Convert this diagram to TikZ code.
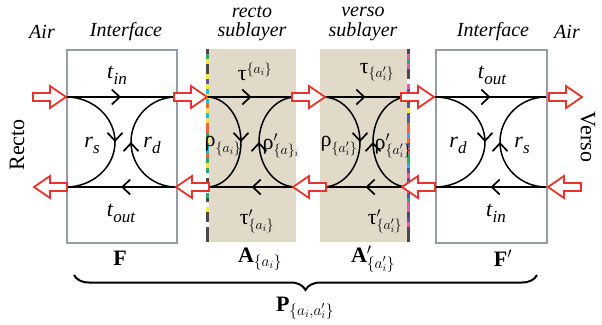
\RequirePackage{fix-cm}
\documentclass[tikz,border=0pt]{standalone}
\usepackage{fontspec}
\setmainfont{Liberation Serif}
\usetikzlibrary{decorations.markings,decorations.pathreplacing,arrows.meta}
\definecolor{boxgray}{RGB}{152,156,162}
\definecolor{beige}{RGB}{226,218,201}
\definecolor{arrred}{RGB}{232,52,42}
\definecolor{inkY}{RGB}{250,228,70}
\definecolor{inkC}{RGB}{40,180,230}
\definecolor{inkP}{RGB}{88,86,160}
\definecolor{inkG}{RGB}{40,170,110}
\definecolor{inkO}{RGB}{240,100,60}
\definecolor{inkK}{RGB}{230,90,160}
\definecolor{inkD}{RGB}{80,72,72}
\definecolor{inkW}{RGB}{255,255,255}
\newcommand{\utau}{\mbox{\fontsize{22}{22}\selectfont τ}}
\newcommand{\urho}{\mbox{\fontsize{22}{22}\selectfont ρ}}
\newcommand{\isub}[2]{\textit{#1}\raisebox{-6pt}{\fontsize{17}{17}\selectfont\itshape #2}}
\tikzset{
  flow/.style={line width=1.5pt, postaction=decorate,
    decoration={markings, mark=at position 0.5 with {\arrow{Straight Barb[length=8pt,width=15pt,line width=1.7pt]}}}},
  plainbox/.style={draw=boxgray, line width=2.2pt},
  inkbox/.style={fill=beige},
  lbl/.style={font=\fontsize{22}{24}\selectfont, inner sep=0pt},
  glbl/.style={font=\fontsize{20}{22}\selectfont, inner sep=0pt},
  ilbl/.style={font=\fontsize{20}{20}\selectfont\itshape, inner sep=0pt, align=center},
  pics/blockarrow/.style={code={
    \draw[arrred, fill=white, line width=1.8pt, line join=miter]
      (0,0) -- (-16,-11) -- (-16,-4) -- (-33,-4) -- (-33,4) -- (-16,4) -- (-16,11) -- cycle;}}
}
% #1 name, #2 left x, #3 right x, #4 left bulge x, #5 right bulge x
\newcommand{\flowbox}[5]{%
  \coordinate (#1tl) at (#2,97);
  \coordinate (#1tr) at (#3,97);
  \coordinate (#1bl) at (#2,187);
  \coordinate (#1br) at (#3,187);
  \coordinate (#1ml) at (#4,142);
  \coordinate (#1mr) at (#5,142);
  \draw[flow] (#1tl) -- (#1tr);
  \draw[flow] (#1br) -- (#1bl);
  \draw[flow] (#1tl) .. controls (#2+0.552*#4-0.552*#2,97) and (#4,117.2) .. (#1ml)
                     .. controls (#4,166.8) and (#2+0.552*#4-0.552*#2,187) .. (#1bl);
  \draw[flow] (#1br) .. controls (#3-0.552*#3+0.552*#5,187) and (#5,166.8) .. (#1mr)
                     .. controls (#5,117.2) and (#3-0.552*#3+0.552*#5,97) .. (#1tr);
}
\begin{document}
\begin{tikzpicture}[x=1pt,y=-1pt]
\useasboundingbox (0,0) rectangle (602,324);
% boxes
\node[inkbox, minimum width=89pt, minimum height=193pt, inner sep=0pt, anchor=north west] (A) at (207,49) {};
\node[inkbox, minimum width=88pt, minimum height=193pt, inner sep=0pt, anchor=north west] (Ap) at (320,49) {};
\node[plainbox, minimum width=110pt, minimum height=193pt, inner sep=0pt, anchor=north west] (F) at (66,49) {};
\node[plainbox, minimum width=111pt, minimum height=193pt, inner sep=0pt, anchor=north west] (Fp) at (435,49) {};
% ink edges
\foreach \c [count=\i from 0] in {inkD,inkG,inkY,inkD,inkD,inkY,inkP,inkY,inkC,inkY,inkC,inkO,inkY,inkC,inkY,inkO,inkO,inkG,inkY,inkG,inkC,inkO,inkG,inkY,inkG,inkW,inkD,inkD,inkW,inkG,inkD,inkW,inkY,inkD,inkD,inkW,inkD,inkD,inkD}
  \fill[fill=\c] (206,49+\i*4.95) rectangle ++(3,4.95);
\foreach \c [count=\i from 0] in {inkD,inkK,inkG,inkK,inkD,inkD,inkW,inkK,inkP,inkP,inkD,inkP,inkY,inkP,inkP,inkO,inkO,inkC,inkO,inkP,inkO,inkG,inkG,inkC,inkP,inkK,inkP,inkP,inkK,inkP,inkG,inkK,inkK,inkD,inkP,inkK,inkD,inkD,inkD}
  \fill[fill=\c] (407,49+\i*4.95) rectangle ++(3,4.95);
% flows
\flowbox{F}{66}{176}{115}{131}
\flowbox{A}{207}{296}{241}{259}
\flowbox{B}{323}{408}{360}{373}
\flowbox{G}{435}{546}{485}{500}
% block arrows
\pic at (66,97) {blockarrow};
\pic at (207,97) {blockarrow};
\pic at (325,97) {blockarrow};
\pic at (434,97) {blockarrow};
\pic at (582,97) {blockarrow};
\pic[rotate=180] at (34,187) {blockarrow};
\pic[rotate=180] at (176,187) {blockarrow};
\pic[rotate=180] at (293,187) {blockarrow};
\pic[rotate=180] at (402,187) {blockarrow};
\pic[rotate=180] at (548,187) {blockarrow};
% top labels
\node[ilbl] (air1) at (42,32) {Air};
\node[ilbl] (int1) at (126,32) {Interface};
\node[ilbl] (rs1) at (252,12) {recto};
\node[ilbl] (rs2) at (252,32) {sublayer};
\node[ilbl] (vs1) at (363,12) {verso};
\node[ilbl] (vs2) at (363,32) {sublayer};
\node[ilbl] (int2) at (493,32) {Interface};
\node[ilbl] (air2) at (567,32) {Air};
\node[lbl, rotate=90] (recto) at (17,145) {Recto};
\node[lbl, rotate=-90] (verso) at (588,137) {Verso};
% F labels
\node[lbl] (Ftin) at (117,75) {\isub{t}{in}};
\node[lbl] (Frs) at (92,145) {\isub{r}{s}};
\node[lbl] (Frd) at (152,145) {\isub{r}{d}};
\node[lbl] (Ftout) at (121,213) {\isub{t}{out}};
\node[lbl] (Fname) at (120,258) {\textbf{F}};
% A labels
\node[glbl] (Atau) at (255,72) {$\utau^{\{a_i\}}$};
\node[glbl] (Arho) at (223,146) {$\urho_{\{a_i\}}$};
\node[glbl] (Arhop) at (281,146) {$\urho'_{\{a\}_i}$};
\node[glbl] (Ataup) at (257,221) {$\utau'_{\{a_i\}}$};
\node[lbl] (Aname) at (260,259) {\textbf{A}$_{\{a_i\}}$};
% A' labels
\node[glbl] (Btau) at (377,72) {$\utau_{\{a'_i\}}$};
\node[glbl] (Brho) at (339,146) {$\urho_{\{a'_i\}}$};
\node[glbl] (Brhop) at (393,146) {$\urho'_{\{a'_i\}}$};
\node[glbl] (Btaup) at (385,221) {$\utau'_{\{a'_i\}}$};
\node[lbl] (Bname) at (373,259) {\textbf{A}$'_{\{a'_i\}}$};
% F' labels
\node[lbl] (Gtout) at (492,75) {\isub{t}{out}};
\node[lbl] (Grd) at (458,145) {\isub{r}{d}};
\node[lbl] (Grs) at (522,145) {\isub{r}{s}};
\node[lbl] (Gtin) at (496,213) {\isub{t}{in}};
\node[lbl] (Gname) at (503,258) {\textbf{F}$'$};
% brace
\coordinate (brR) at (537,275);
\coordinate (brL) at (74,275);
\draw[line width=2pt, decorate, decoration={brace, amplitude=15pt}] (brR) -- (brL);
\node[lbl] (P) at (305,308) {\textbf{P}$_{\{a_i,a'_i\}}$};
\end{tikzpicture}
\end{document}
